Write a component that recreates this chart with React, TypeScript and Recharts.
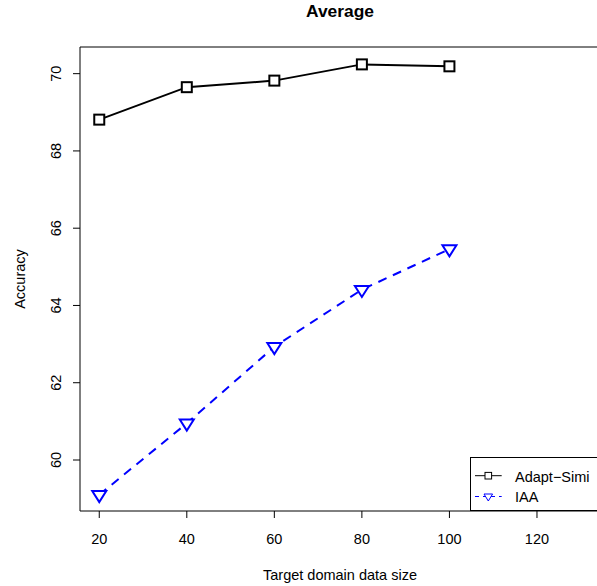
import React from 'react';
import { LineChart, Line, XAxis, YAxis, ReferenceArea, Customized } from 'recharts';

const sizes = [20, 40, 60, 80, 100];
const adaptSimi = [68.81, 69.65, 69.82, 70.24, 70.19];
const iaa = [59.1, 60.95, 62.93, 64.41, 65.46];
const xTicks = [20, 40, 60, 80, 100, 120];
const yTicks = [60, 62, 64, 66, 68, 70];
const seriesNames = ['Adapt\u2212Simi', 'IAA'];

const data = sizes.map((s, i) => ({ size: s, adapt: adaptSimi[i], iaa: iaa[i] }));

const FONT = '"Liberation Sans", Arial, Helvetica, sans-serif';
const FS = 14.5;
const X_DOMAIN: [number, number] = [15.6, 134.4];
const Y_DOMAIN: [number, number] = [58.68, 70.69];

const SquareDot = (props: any) => {
  const { cx, cy, index } = props;
  if (cx == null || cy == null) return null;
  return <rect key={`sq-${index}`} x={cx - 5} y={cy - 5} width={10} height={10} fill="#fff" stroke="#000" strokeWidth={2} />;
};

const TriDot = (props: any) => {
  const { cx, cy, index } = props;
  if (cx == null || cy == null) return null;
  const pts = `${cx - 7},${cy - 3.7} ${cx + 7},${cy - 3.7} ${cx},${cy + 7.3}`;
  return <polygon key={`tr-${index}`} points={pts} fill="#fff" stroke="#0000ff" strokeWidth={2} />;
};

const XTick = (props: any) => {
  const { x, y, payload } = props;
  return (
    <text x={x} y={y} dy={26} textAnchor="middle" fontFamily={FONT} fontSize={FS} fill="#000">
      {payload.value}
    </text>
  );
};

const YTick = (props: any) => {
  const { y, payload } = props;
  return (
    <text x={0} y={0} transform={`translate(60.5, ${y}) rotate(-90)`} textAnchor="middle" fontFamily={FONT} fontSize={FS} fill="#000">
      {payload.value}
    </text>
  );
};

const Decorations = () => (
  <g fontFamily={FONT}>
    <text x={340} y={16.5} textAnchor="middle" fontSize={17.4} fontWeight="bold" fill="#000">Average</text>
    <text x={340} y={579.5} textAnchor="middle" fontSize={FS} fill="#000">Target domain data size</text>
    <text x={0} y={0} transform="translate(24.5, 279) rotate(-90)" textAnchor="middle" fontSize={FS} fill="#000">Accuracy</text>
    <rect x={470.5} y={457.5} width={140} height={53} fill="#fff" stroke="#000" strokeWidth={1} />
    <line x1={475} y1={475.7} x2={501.7} y2={475.7} stroke="#000" strokeWidth={1} />
    <rect x={485} y={472.4} width={6.6} height={6.6} fill="#fff" stroke="#000" strokeWidth={1} />
    <text x={515} y={481.5} fontSize={FS} fill="#000">{seriesNames[0]}</text>
    <line x1={475} y1={496.5} x2={501.7} y2={496.5} stroke="#0000ff" strokeWidth={1} strokeDasharray="4 4" />
    <polygon points="484,494 492.6,494 488.3,501" fill="#fff" stroke="#0000ff" strokeWidth={1} />
    <text x={515} y={501.5} fontSize={FS} fill="#000">{seriesNames[1]}</text>
  </g>
);

export default function App() {
  return (
    <div style={{ position: 'absolute', left: 0, top: 0, width: 597, height: 586, overflow: 'hidden', background: '#fff' }}>
      <LineChart width={600} height={586} data={data} margin={{ top: 47, right: 0, bottom: 0, left: 0 }}>
        <XAxis
          dataKey="size"
          type="number"
          domain={X_DOMAIN}
          ticks={xTicks}
          axisLine={false}
          tickLine={{ stroke: '#000' }}
          tickSize={7}
          tickMargin={0}
          height={75}
          tick={<XTick />}
          interval={0}
          allowDataOverflow
        />
        <YAxis
          type="number"
          domain={Y_DOMAIN}
          ticks={yTicks}
          axisLine={false}
          tickLine={{ stroke: '#000' }}
          tickSize={7}
          width={80}
          tick={<YTick />}
          interval={0}
          allowDataOverflow
        />
        <ReferenceArea x1={X_DOMAIN[0]} x2={X_DOMAIN[1]} y1={Y_DOMAIN[0]} y2={Y_DOMAIN[1]} fill="none" fillOpacity={0} stroke="#000" strokeWidth={1} strokeOpacity={1} />
        <Line dataKey="adapt" stroke="#000" strokeWidth={2} dot={<SquareDot />} isAnimationActive={false} />
        <Line dataKey="iaa" stroke="#0000ff" strokeWidth={2} strokeDasharray="9 7" dot={<TriDot />} isAnimationActive={false} />
        <Customized component={<Decorations />} />
      </LineChart>
    </div>
  );
}
